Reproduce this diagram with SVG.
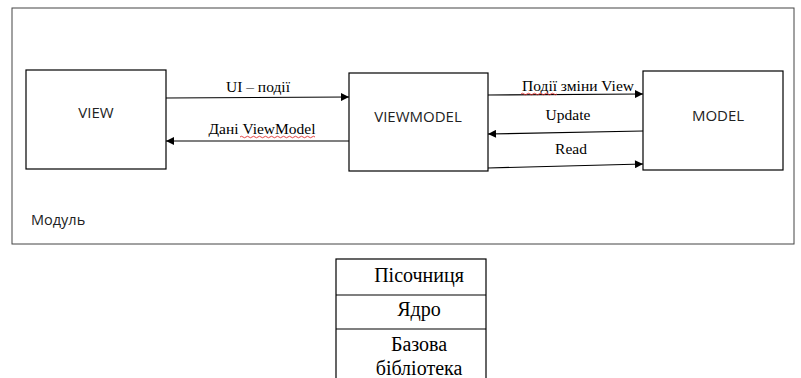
<svg xmlns="http://www.w3.org/2000/svg" width="801" height="378" viewBox="0 0 801 378">
<defs>
<marker id="ah" viewBox="0 0 10 10" refX="10" refY="5" markerWidth="9" markerHeight="8" markerUnits="userSpaceOnUse" orient="auto">
<path d="M0,0 L10,5 L0,10 Z" fill="#000"/>
</marker>
</defs>
<style>
.box{fill:#fff;stroke:#000;stroke-width:1.2}
.nl{font-family:"Open Sans","Liberation Sans",sans-serif;font-size:15px;fill:#222;text-anchor:middle}
.el{font-family:"Liberation Serif","Times New Roman",serif;font-size:15.5px;fill:#000;text-anchor:middle}
.tl{font-family:"Liberation Serif","Times New Roman",serif;font-size:20px;fill:#000;text-anchor:middle}
.cn{fill:none;stroke:#000;stroke-width:1.2;marker-end:url(#ah)}
.sq{fill:none;stroke:#e03030;stroke-width:0.9}
</style>
<rect width="801" height="378" fill="#fff"/>
<g id="module">
<rect x="12" y="8" width="782" height="236" fill="none" stroke="#444" stroke-width="1"/>
<text x="31" y="225" font-family="Open Sans, Liberation Sans, sans-serif" font-size="14.5" fill="#222">Модуль</text>
</g>
<g id="view">
<rect class="box" x="26" y="70" width="140" height="99"/>
<text class="nl" x="96" y="118">VIEW</text>
</g>
<g id="viewmodel">
<rect class="box" x="349" y="73" width="139" height="98"/>
<text class="nl" x="418" y="122">VIEWMODEL</text>
</g>
<g id="model">
<rect class="box" x="643" y="71" width="140" height="99"/>
<text class="nl" x="718" y="121">MODEL</text>
</g>
<g id="connectors">
<path class="cn" d="M166,98 L349,97"/>
<path class="cn" d="M349,141 L166,141"/>
<path class="cn" d="M488,95 L643,94"/>
<path class="cn" d="M643,131 L488,134"/>
<path class="cn" d="M488,168 L643,164"/>
</g>
<g id="labels">
<text class="el" x="258" y="92">UI – події</text>
<text class="el" x="262" y="134">Дані ViewModel</text>
<path class="sq" d="M240,137 q1.5,-1.5 3,0 t3,0 t3,0 t3,0 t3,0 t3,0 t3,0 t3,0 t3,0 t3,0 t3,0 t3,0 t3,0 t3,0 t3,0 t3,0 t3,0 t3,0 t3,0 t3,0 t3,0 t3,0 t3,0 t3,0 t3,0"/>
<text class="el" x="578" y="91">Події зміни View</text>
<path class="sq" d="M521,94 q1.5,-1.5 3,0 t3,0 t3,0 t3,0 t3,0 t3,0 t3,0 t3,0 t3,0 t3,0 t3,0 t3,0"/>
<text class="el" x="568" y="120">Update</text>
<text class="el" x="571" y="154">Read</text>
</g>
<g id="stack">
<rect x="336" y="259" width="150" height="130" fill="#fff" stroke="#000" stroke-width="1.2"/>
<line x1="336" y1="295" x2="486" y2="295" stroke="#000" stroke-width="1.2"/>
<line x1="336" y1="329" x2="486" y2="329" stroke="#000" stroke-width="1.2"/>
<text class="tl" x="419" y="282">Пісочниця</text>
<text class="tl" x="419" y="316">Ядро</text>
<text class="tl" x="419" y="351">Базова</text>
<text class="tl" x="419" y="375">бібліотека</text>
</g>
</svg>
